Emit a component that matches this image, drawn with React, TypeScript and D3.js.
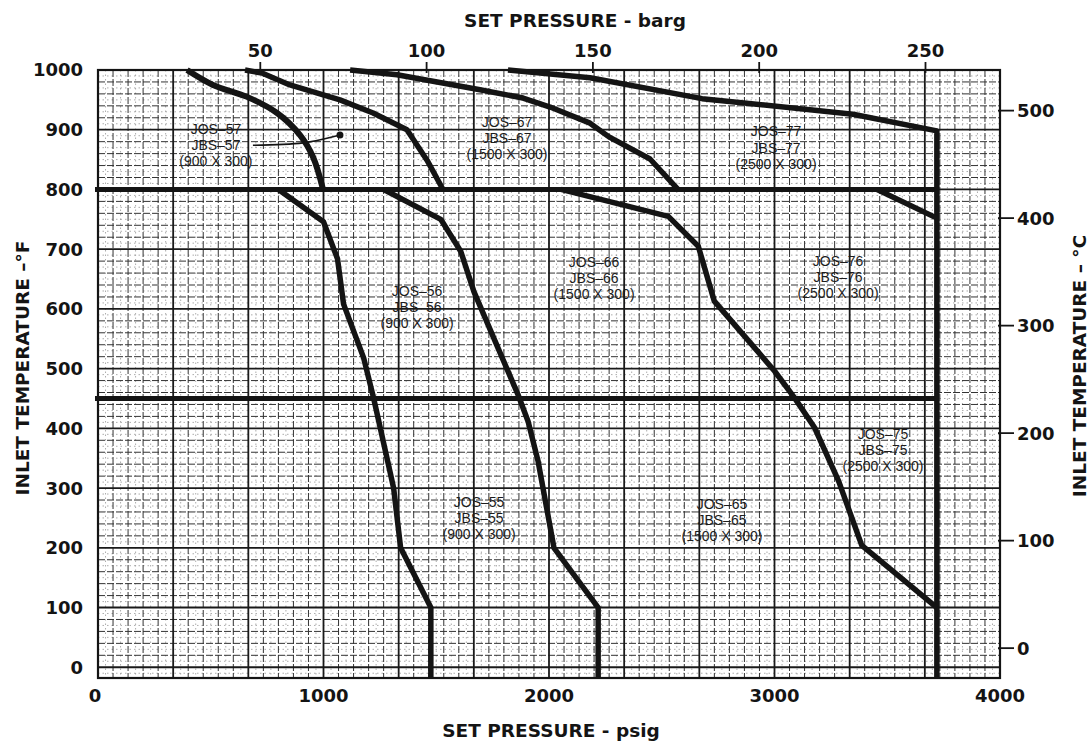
import React from "react";
import * as d3 from "d3";

type Pt = [number, number]; // [set pressure psig, inlet temperature °F]

// axis ticks
const psigTicks = [0, 1000, 2000, 3000, 4000];
const bargTicks = [50, 100, 150, 200, 250];
const degFTicks = [0, 100, 200, 300, 400, 500, 600, 700, 800, 900, 1000];
const degCTicks = [0, 100, 200, 300, 400, 500];

// boundary curves (psig, °F)
const curve57: Pt[] = [[395, 1000], [510, 975], [661, 955], [794, 928], [896, 891], [954, 854], [998, 800]];
const curve67: Pt[] = [[652, 1000], [727, 995], [851, 975], [1073, 950], [1220, 928], [1370, 900], [1459, 849], [1530, 800]];
const curve77: Pt[] = [[1118, 1000], [1326, 992], [1694, 967], [1885, 953], [2005, 938], [2182, 911], [2266, 888], [2448, 851], [2572, 800]];
const curveTop: Pt[] = [[1818, 1000], [2182, 987], [2679, 952], [3348, 926], [3720, 898], [3720, -18]];
const curve56: Pt[] = [[800, 800], [1000, 746], [1062, 684], [1089, 608], [1178, 518], [1222, 451], [1284, 346], [1311, 300], [1342, 200], [1476, 100], [1476, -18]];
const curve66: Pt[] = [[1267, 800], [1520, 750], [1609, 696], [1667, 629], [1862, 457], [1907, 412], [1951, 346], [2022, 200], [2218, 100], [2218, -18]];
const curve76: Pt[] = [[2053, 800], [2529, 755], [2662, 705], [2733, 613], [3000, 496], [3089, 451], [3178, 401], [3284, 312], [3387, 204], [3720, 100]];
const curve2500: Pt[] = [[3455, 800], [3720, 752]];

// heavy horizontal boundaries (°F) and where they stop (psig)
const boundaryTemps = [800, 450];
const boundaryEnd = 3720;

// leader from the JOS-57 label to its region
const leader57: Pt[] = [[687, 874], [909, 878], [1060, 890]];
const leaderDot: Pt = [1073, 891];

const regionLabels = [
  { lines: ["JOS–57", "JBS–57", "(900 X 300)"], psig: 523, degF: 874 },
  { lines: ["JOS–67", "JBS–67", "(1500 X 300)"], psig: 1814, degF: 886 },
  { lines: ["JOS–77", "JBS–77", "(2500 X 300)"], psig: 3007, degF: 870 },
  { lines: ["JOS–56", "JBS–56", "(900 X 300)"], psig: 1415, degF: 603 },
  { lines: ["JOS–66", "JBS–66", "(1500 X 300)"], psig: 2200, degF: 652 },
  { lines: ["JOS–76", "JBS–76", "(2500 X 300)"], psig: 3282, degF: 653 },
  { lines: ["JOS–75", "JBS–75", "(2500 X 300)"], psig: 3481, degF: 364 },
  { lines: ["JOS–55", "JBS–55", "(900 X 300)"], psig: 1690, degF: 250 },
  { lines: ["JOS–65", "JBS–65", "(1500 X 300)"], psig: 2767, degF: 247 },
];

const W = 1091;
const H = 744;
const ink = "#141414";
const boldFont = "'DejaVu Sans', 'Liberation Sans', Arial, sans-serif";
const smallFont = "'Liberation Sans', Arial, sans-serif";

export default function App() {
  const x = d3.scaleLinear().domain([0, 4000]).range([98, 1000]);
  const y = d3.scaleLinear().domain([-18, 1000]).range([678, 70]);
  const xBarg = d3.scaleLinear().domain([0, 271.5]).range([94, 997]);
  const yC = d3.scaleLinear().domain([(-18 - 32) / 1.8, (1000 - 32) / 1.8]).range([678, 70]);

  const line = d3.line<Pt>().x(d => x(d[0])).y(d => y(d[1]));
  const smooth = d3.line<Pt>().x(d => x(d[0])).y(d => y(d[1])).curve(d3.curveCatmullRom);

  const [x0, x1] = x.range();
  const [yb, yt] = y.range();

  // graph paper: fine texture, minor and major rulings
  const xFine = d3.range(0, 4000.1, 1000 / 30).filter((_, i) => i % 2 !== 0);
  const yFine = d3.range(-10, 1000, 10).filter(v => v % 20 !== 0);
  const xMajor = d3.range(0, 4000.1, 1000 / 3);
  const xMinor = d3.range(0, 4000.1, 1000 / 15).filter((_, i) => i % 5 !== 0);
  const yMajor = d3.range(0, 1000.1, 100);
  const yMinor = d3.range(0, 1000, 20).filter(v => v % 100 !== 0);

  const curves = [curve67, curve77, curveTop, curve56, curve66, curve76, curve2500];

  return (
    <svg width={W} height={H} style={{ position: "absolute", left: 0, top: 0, background: "#fff" }}>
      <rect x={0} y={0} width={W} height={H} fill="#fff" />

      {/* fine dotted texture */}
      <g stroke="#8a8a8a" strokeWidth={0.7} strokeDasharray="1.5,3">
        {xFine.map((v, i) => (
          <line key={"xf" + i} x1={x(v)} x2={x(v)} y1={yt} y2={yb} />
        ))}
        {yFine.map((v, i) => (
          <line key={"yf" + i} x1={x0} x2={x1} y1={y(v)} y2={y(v)} />
        ))}
      </g>
      {/* minor grid */}
      <g stroke="#333" strokeWidth={1} strokeDasharray="7,2">
        {xMinor.map((v, i) => (
          <line key={"xm" + i} x1={x(v)} x2={x(v)} y1={yt} y2={yb} />
        ))}
        {yMinor.map((v, i) => (
          <line key={"ym" + i} x1={x0} x2={x1} y1={y(v)} y2={y(v)} />
        ))}
      </g>
      {/* major grid */}
      <g stroke="#1a1a1a" strokeWidth={1.8}>
        {xMajor.map((v, i) => (
          <line key={"xM" + i} x1={x(v)} x2={x(v)} y1={yt} y2={yb} />
        ))}
        {yMajor.map((v, i) => (
          <line key={"yM" + i} x1={x0} x2={x1} y1={y(v)} y2={y(v)} />
        ))}
      </g>
      <rect x={x0} y={yt} width={x1 - x0} height={yb - yt} fill="none" stroke={ink} strokeWidth={2.2} />

      {/* heavy temperature boundaries */}
      {boundaryTemps.map(t => (
        <line key={"b" + t} x1={x(0) - 3} x2={x(boundaryEnd)} y1={y(t)} y2={y(t)} stroke={ink} strokeWidth={5} />
      ))}

      {/* curves */}
      <path d={smooth(curve57) ?? ""} fill="none" stroke={ink} strokeWidth={6} strokeLinejoin="round" />
      {curves.map((c, i) => (
        <path key={"c" + i} d={line(c) ?? ""} fill="none" stroke={ink} strokeWidth={5.5} strokeLinejoin="round" />
      ))}

      {/* leader */}
      <path d={smooth(leader57) ?? ""} fill="none" stroke={ink} strokeWidth={1.6} />
      <circle cx={x(leaderDot[0])} cy={y(leaderDot[1])} r={3.5} fill={ink} />

      {/* region labels */}
      <g fontFamily={smallFont} fontSize={14} fill="#1c1c1c" textAnchor="middle">
        {regionLabels.map((r, i) => (
          <text key={"r" + i} x={x(r.psig)} y={y(r.degF)}>
            {r.lines.map((s, j) => (
              <tspan key={j} x={x(r.psig)} dy={j === 0 ? "-0.8em" : "1.15em"}>
                {s}
              </tspan>
            ))}
          </text>
        ))}
      </g>

      {/* tick labels */}
      <g fontFamily={boldFont} fontWeight="bold" fontSize={18} fill={ink}>
        {degFTicks.map(t => (
          <text key={"f" + t} x={83} y={y(t)} dy="0.36em" textAnchor="end">{t}</text>
        ))}
        {psigTicks.map(t => (
          <text key={"p" + t} x={t === 0 ? x(t) - 3 : x(t)} y={702} textAnchor="middle">{t}</text>
        ))}
        {bargTicks.map(t => (
          <g key={"g" + t}>
            <line x1={xBarg(t)} x2={xBarg(t)} y1={62} y2={yt + 3} stroke={ink} strokeWidth={1.8} />
            <text x={xBarg(t)} y={57} textAnchor="middle">{t}</text>
          </g>
        ))}
        {degCTicks.map(t => (
          <g key={"c" + t}>
            <line x1={x1 - 2} x2={1014} y1={yC(t)} y2={yC(t)} stroke={ink} strokeWidth={1.8} />
            <text x={1017} y={yC(t)} dy="0.36em">{t}</text>
          </g>
        ))}
      </g>

      {/* axis titles */}
      <g fontFamily={boldFont} fontWeight="bold" fontSize={18.5} fill={ink} textAnchor="middle">
        <text x={575} y={27}>SET PRESSURE - barg</text>
        <text x={551} y={737}>SET PRESSURE - psig</text>
        <text transform="translate(29,368) rotate(-90)">INLET TEMPERATURE –°F</text>
        <text transform="translate(1086,366) rotate(-90)">INLET TEMPERATURE – °C</text>
      </g>
    </svg>
  );
}
